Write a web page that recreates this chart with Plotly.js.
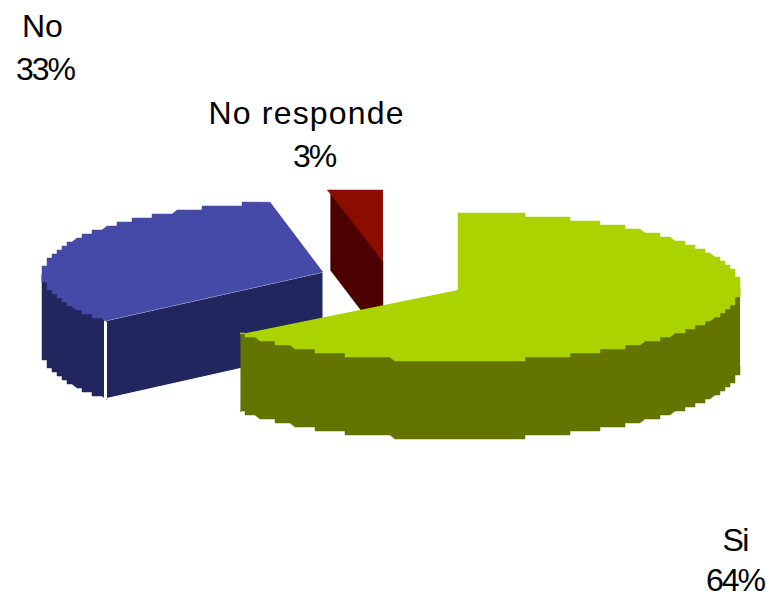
<!DOCTYPE html>
<html><head><meta charset="utf-8">
<script src="https://cdn.plot.ly/plotly-3.0.1.min.js"></script>
<style>
html,body{margin:0;padding:0;background:#fff}
#c{width:767px;height:599px}
.annotation[data-index="1"] text,.annotation[data-index="5"] text{letter-spacing:-2px}
.annotation[data-index="3"] text{letter-spacing:-2px}
.annotation[data-index="2"] text{letter-spacing:1.2px}
.annotation[data-index="4"] text{letter-spacing:-1.5px}
</style></head><body><div id="c"></div>
<script>
const categories = ['Si', 'No', 'No responde'];
const shares = [64, 33, 3];

const topColors = ['#ABD300', '#454AA8', '#8B0D00'];
const sideColors = ['#637400', '#22265E', '#4D0000'];

// projection of each exploded slice onto the page
const geom = [
  {ax: 458, ay: 290, cx: 458, cy: 287, rx: 282, ry: 74, ox: 740, oy: 1},
  {ax: 323, ay: 272, cx: 323, cy: 274, rx: 281, ry: 73, ox: 42, oy: 2},
  {ax: 383, ay: 261, cx: 383, cy: 261, rx: 281, ry: 71, ox: 0, oy: 0}
];
const depth = 78;
const gridX = 5, gridY = 4;

const total = shares.reduce((a, b) => a + b, 0);
let cum = 0;
const spans = shares.map(v => { const s = cum; cum += v; return [s / total * 2 * Math.PI, cum / total * 2 * Math.PI]; });

const pt = (g, t) => [g.cx + g.rx * Math.sin(t), g.cy - g.ry * Math.cos(t)];
const snap = (g, p) => [
  Math.round((p[0] - g.ox) / gridX) * gridX + g.ox,
  Math.round((p[1] - g.oy) / gridY) * gridY + g.oy
];

function arc(g, a, b, dz) {
  const n = Math.max(2, Math.ceil(Math.abs(b - a) / 0.004)), out = [];
  for (let i = 0; i <= n; i++) {
    let p = pt(g, a + (b - a) * i / n);
    if (i > 0 && i < n) p = snap(g, p);
    const q = [p[0], p[1] + (dz || 0)];
    const l = out[out.length - 1];
    if (!l || l[0] !== q[0] || l[1] !== q[1]) out.push(q);
  }
  return out;
}
function poly(pts, fill, lineColor, lineWidth) {
  return {
    type: 'scatter', mode: 'lines', hoverinfo: 'skip', showlegend: false,
    x: pts.map(p => p[0]), y: pts.map(p => p[1]), fill: 'toself', fillcolor: fill,
    line: {color: lineColor || fill, width: lineWidth === undefined ? 0.5 : lineWidth}
  };
}
const traces = [];

// "No" slice: outer wall, cut face, top
{
  const g = geom[1], [a, b] = spans[1];
  const wall = arc(g, a, 1.5 * Math.PI, 0);
  const wallLow = arc(g, 1.5 * Math.PI, a, depth);
  traces.push(poly(wall.concat(wallLow), sideColors[1]));
  const e = pt(g, a);
  const apex = [g.ax, g.ay];
  traces.push(poly([apex, e, [e[0], e[1] + depth], [apex[0], apex[1] + depth], apex], sideColors[1], '#ffffff', 1));
  traces.push({type: 'scatter', mode: 'lines', hoverinfo: 'skip', showlegend: false,
    x: [e[0] - 1, e[0] - 1], y: [e[1], e[1] + depth + 1], line: {color: '#ffffff', width: 3}});
  traces.push(poly([apex].concat(arc(g, a, b, 0)), topColors[1]));
}
// "No responde" slice: cut face, flat-topped wedge
{
  const g = geom[2], [a, b] = spans[2];
  const e = pt(g, a), end = pt(g, b), apex = [g.ax, g.ay];
  traces.push(poly([[e[0], end[1]], apex, [apex[0], apex[1] + depth], [e[0], end[1] + depth + 2]], sideColors[2]));
  traces.push(poly([apex, [e[0] - 3, end[1]], end], topColors[2]));
}
// "Si" slice: outer wall, top
{
  const g = geom[0], [a, b] = spans[0];
  const upper = arc(g, Math.PI / 2, b, 0);
  const lower = arc(g, b, Math.PI / 2, depth);
  traces.push(poly(upper.concat(lower), sideColors[0]));
  traces.push(poly([[g.ax, g.ay]].concat(arc(g, a, b, 0)), topColors[0]));
}

const labelPos = [
  {nx: 735, ny: 540, px: 735, py: 580},
  {nx: 42.5, ny: 26, px: 45, py: 69},
  {nx: 306, ny: 113, px: 314, py: 156}
];
const fontSpec = {family: 'Liberation Sans, Arial, sans-serif', size: 32, color: '#000'};
const order = [1, 2, 0];
const annotations = [];
order.forEach(i => {
  const p = labelPos[i];
  annotations.push({x: p.nx, y: p.ny, text: categories[i], showarrow: false, xanchor: 'center', yanchor: 'middle', font: fontSpec});
  annotations.push({x: p.px, y: p.py, text: shares[i] + '%', showarrow: false, xanchor: 'center', yanchor: 'middle', font: fontSpec});
});

Plotly.newPlot('c', traces, {
  width: 767, height: 599, margin: {l: 0, r: 0, t: 0, b: 0},
  paper_bgcolor: '#fff', plot_bgcolor: '#fff', showlegend: false,
  xaxis: {range: [0, 767], visible: false, fixedrange: true},
  yaxis: {range: [599, 0], visible: false, fixedrange: true},
  annotations
}, {displayModeBar: false, staticPlot: true});
</script></body></html>
